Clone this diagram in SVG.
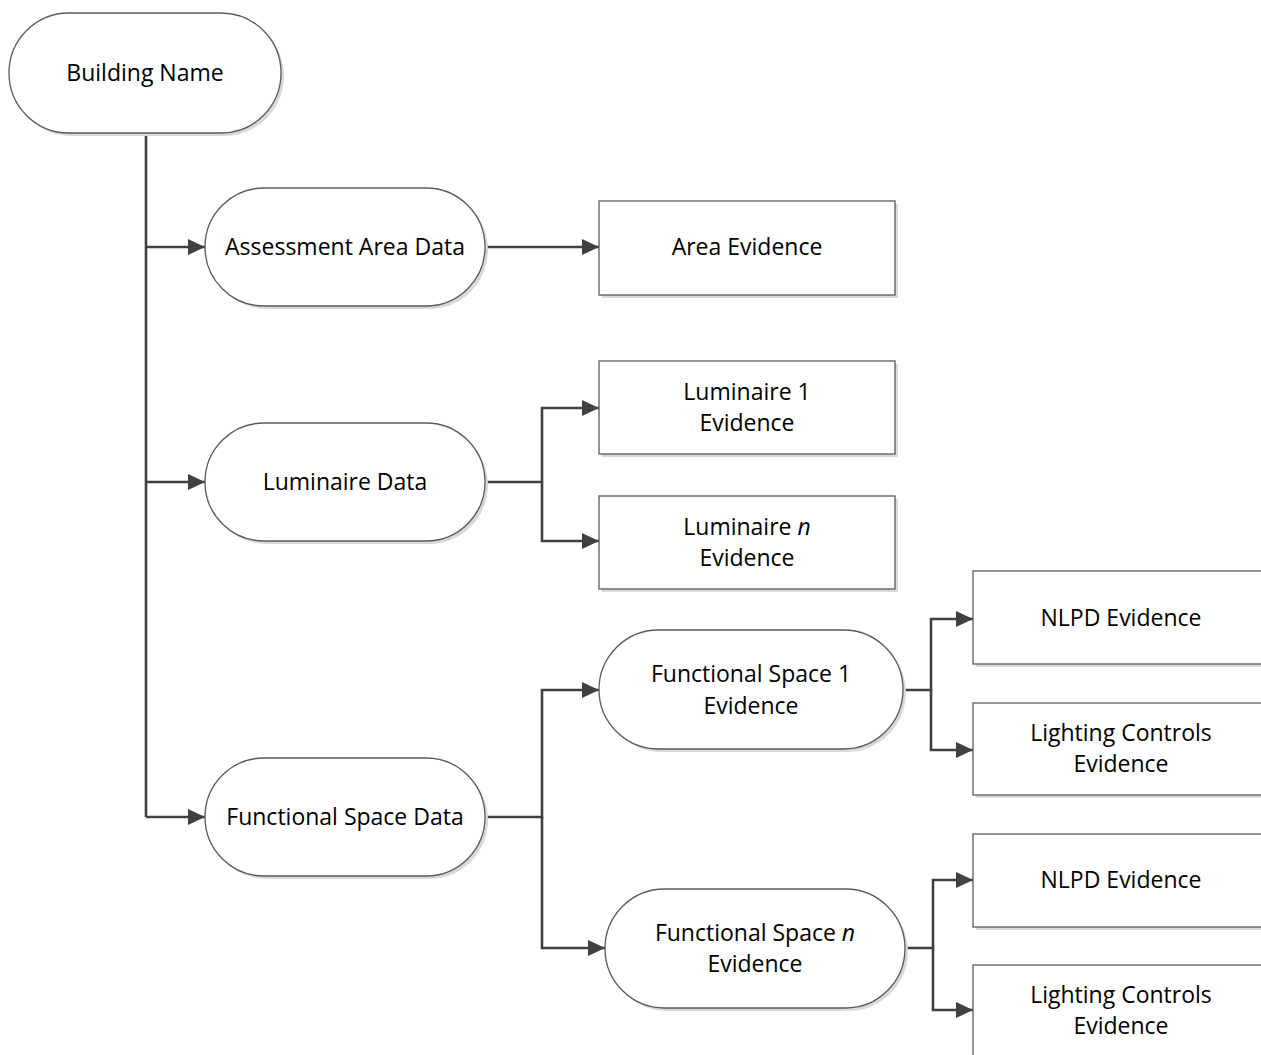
<svg xmlns="http://www.w3.org/2000/svg" width="1261" height="1055" viewBox="0 0 1261 1055">
<style>
.shape{fill:#fff;stroke:#5a5a5a;stroke-width:1.3}
.shadow{fill:#d9d9d9;stroke:none}
.lbl{font-family:"Open Sans","Liberation Sans",sans-serif;font-size:23px;fill:#000;text-anchor:middle}
.con{fill:none;stroke:#404040;stroke-width:2.6}
</style>
<defs>
<marker id="arr" viewBox="0 0 17 16" refX="17" refY="8" markerWidth="17" markerHeight="16" markerUnits="userSpaceOnUse" orient="auto">
<path d="M0,0 L17,8 L0,16 Z" fill="#404040"/>
</marker>
</defs>
<g id="connectors">
<path class="con" d="M146,133 V817"/>
<path class="con" d="M146,247 H205" marker-end="url(#arr)"/>
<path class="con" d="M146,482 H205" marker-end="url(#arr)"/>
<path class="con" d="M146,817 H205" marker-end="url(#arr)"/>
<path class="con" d="M485,247 H599" marker-end="url(#arr)"/>
<path class="con" d="M485,482 H542 V408 H599" marker-end="url(#arr)"/>
<path class="con" d="M542,482 V541 H599" marker-end="url(#arr)"/>
<path class="con" d="M485,817 H542 V690 H599" marker-end="url(#arr)"/>
<path class="con" d="M542,817 V948 H605" marker-end="url(#arr)"/>
<path class="con" d="M903,690 H931 V619 H973" marker-end="url(#arr)"/>
<path class="con" d="M931,690 V750 H973" marker-end="url(#arr)"/>
<path class="con" d="M905,948 H933 V880 H973" marker-end="url(#arr)"/>
<path class="con" d="M933,948 V1010 H973" marker-end="url(#arr)"/>
</g>
<g id="building-name">
<rect class="shadow" x="12" y="16" width="272" height="120" rx="60"/>
<rect class="shape" x="9" y="13" width="272" height="120" rx="60"/>
<text class="lbl" x="145" y="81">Building Name</text>
</g>
<g id="assessment-area-data">
<rect class="shadow" x="208" y="191" width="280" height="118" rx="59"/>
<rect class="shape" x="205" y="188" width="280" height="118" rx="59"/>
<text class="lbl" x="345" y="255">Assessment Area Data</text>
</g>
<g id="area-evidence">
<rect class="shadow" x="602" y="204" width="296" height="94"/>
<rect class="shape" x="599" y="201" width="296" height="94"/>
<text class="lbl" x="747" y="255">Area Evidence</text>
</g>
<g id="luminaire-data">
<rect class="shadow" x="208" y="426" width="280" height="118" rx="59"/>
<rect class="shape" x="205" y="423" width="280" height="118" rx="59"/>
<text class="lbl" x="345" y="490">Luminaire Data</text>
</g>
<g id="luminaire-1-evidence">
<rect class="shadow" x="602" y="364" width="296" height="93"/>
<rect class="shape" x="599" y="361" width="296" height="93"/>
<text class="lbl" x="747" y="400">Luminaire 1</text>
<text class="lbl" x="747" y="431">Evidence</text>
</g>
<g id="luminaire-n-evidence">
<rect class="shadow" x="602" y="499" width="296" height="93"/>
<rect class="shape" x="599" y="496" width="296" height="93"/>
<text class="lbl" x="747" y="535">Luminaire <tspan font-style="italic">n</tspan></text>
<text class="lbl" x="747" y="566">Evidence</text>
</g>
<g id="functional-space-data">
<rect class="shadow" x="208" y="761" width="280" height="118" rx="59"/>
<rect class="shape" x="205" y="758" width="280" height="118" rx="59"/>
<text class="lbl" x="345" y="825">Functional Space Data</text>
</g>
<g id="functional-space-1-evidence">
<rect class="shadow" x="602" y="633" width="304" height="119" rx="59.5"/>
<rect class="shape" x="599" y="630" width="304" height="119" rx="59.5"/>
<text class="lbl" x="751" y="682">Functional Space 1</text>
<text class="lbl" x="751" y="714">Evidence</text>
</g>
<g id="functional-space-n-evidence">
<rect class="shadow" x="608" y="892" width="300" height="119" rx="59.5"/>
<rect class="shape" x="605" y="889" width="300" height="119" rx="59.5"/>
<text class="lbl" x="755" y="941">Functional Space <tspan font-style="italic">n</tspan></text>
<text class="lbl" x="755" y="972">Evidence</text>
</g>
<g id="nlpd-evidence-1">
<rect class="shadow" x="976" y="574" width="300" height="93"/>
<rect class="shape" x="973" y="571" width="300" height="93"/>
<text class="lbl" x="1121" y="626">NLPD Evidence</text>
</g>
<g id="lighting-controls-evidence-1">
<rect class="shadow" x="976" y="706" width="300" height="92"/>
<rect class="shape" x="973" y="703" width="300" height="92"/>
<text class="lbl" x="1121" y="741">Lighting Controls</text>
<text class="lbl" x="1121" y="772">Evidence</text>
</g>
<g id="nlpd-evidence-n">
<rect class="shadow" x="976" y="837" width="300" height="93"/>
<rect class="shape" x="973" y="834" width="300" height="93"/>
<text class="lbl" x="1121" y="888">NLPD Evidence</text>
</g>
<g id="lighting-controls-evidence-n">
<rect class="shadow" x="976" y="968" width="300" height="100"/>
<rect class="shape" x="973" y="965" width="300" height="100"/>
<text class="lbl" x="1121" y="1003">Lighting Controls</text>
<text class="lbl" x="1121" y="1034">Evidence</text>
</g>
</svg>
